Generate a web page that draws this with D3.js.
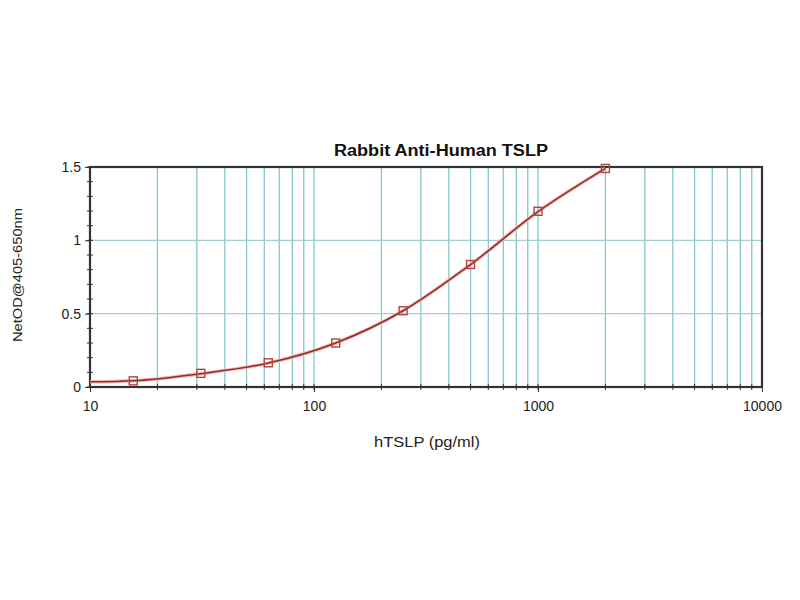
<!DOCTYPE html>
<html>
<head>
<meta charset="utf-8">
<script src="https://cdn.jsdelivr.net/npm/d3@7"></script>
<style>
  body { margin: 0; background: #fff; }
  svg { font-family: "Liberation Sans", Arial, sans-serif; }
</style>
</head>
<body>
<svg id="chart" width="800" height="600"></svg>
<script>
// standard concentrations (pg/ml) and measured OD
const conc = [15.6, 31.25, 62.5, 125, 250, 500, 1000, 2000];
const od = [0.042, 0.093, 0.165, 0.30, 0.52, 0.835, 1.198, 1.49];

// fitted curve (starts at the left axis)
const fitX = [10, 15.6, 31.25, 62.5, 125, 250, 500, 1000, 2000];
const fitY = [0.035, 0.043, 0.091, 0.163, 0.30, 0.52, 0.835, 1.195, 1.49];

const xTicks = [10, 100, 1000, 10000];
const yTicks = [0, 0.5, 1, 1.5];

const margin = {left: 90, top: 167, right: 38, bottom: 213};
const width = 800 - margin.left - margin.right,
    height = 600 - margin.top - margin.bottom;

const svg = d3.select("#chart");
const g = svg.append("g")
    .attr("transform", "translate(" + margin.left + "," + margin.top + ")");

const x = d3.scaleLog().domain([10, 10000]).range([0, width]);
const y = d3.scaleLinear().domain([0, 1.5]).range([height, 0]);

// grid values: every 1..9 of each decade
let gridX = [];
for (let d = 10; d < 10000; d *= 10) {
    for (let k = 1; k <= 9; k++) {
        if (d * k > 10) gridX.push(d * k);
    }
}
gridX = gridX.filter(v => v < 10000);

//vertical grid
g.append("g")
    .selectAll("line")
    .data(gridX)
    .join("line")
    .attr("x1", d => x(d)).attr("x2", d => x(d))
    .attr("y1", 0).attr("y2", height)
    .attr("stroke", "#86c6cb")
    .attr("stroke-width", 1.3);

//horizontal grid
g.append("g")
    .selectAll("line")
    .data([0.5, 1])
    .join("line")
    .attr("x1", 0).attr("x2", width)
    .attr("y1", d => y(d)).attr("y2", d => y(d))
    .attr("stroke", "#9fd0d2")
    .attr("stroke-width", 1.2);

//frame
g.append("rect")
    .attr("width", width).attr("height", height)
    .attr("fill", "none")
    .attr("stroke", "#333")
    .attr("stroke-width", 2.2);

//minor ticks on axes
g.append("g")
    .selectAll("line")
    .data(d3.range(0, 1.51, 0.1))
    .join("line")
    .attr("x1", -3).attr("x2", 3)
    .attr("y1", d => y(d)).attr("y2", d => y(d))
    .attr("stroke", "#333").attr("stroke-width", 1);

g.append("g")
    .selectAll("line")
    .data(gridX)
    .join("line")
    .attr("x1", d => x(d)).attr("x2", d => x(d))
    .attr("y1", height - 3).attr("y2", height + 3)
    .attr("stroke", "#333").attr("stroke-width", 1);

//axes
const xAxis = g.append("g")
    .attr("transform", "translate(0," + height + ")")
    .call(d3.axisBottom(x).tickValues(xTicks).tickFormat(d3.format("d")).tickSize(5).tickPadding(9));
const yAxis = g.append("g")
    .call(d3.axisLeft(y).tickValues(yTicks).tickFormat(d => d).tickSize(5).tickPadding(4));
[xAxis, yAxis].forEach(a => {
    a.select(".domain").remove();
    a.selectAll("line").attr("stroke", "#333");
    a.selectAll("text")
        .attr("fill", "#222")
        .style("font-size", "14px")
        .style("font-family", "'Liberation Sans', Arial, sans-serif");
});

//fitted curve
const line = d3.line()
    .x((d, i) => x(fitX[i]))
    .y((d, i) => y(fitY[i]))
    .curve(d3.curveMonotoneX);

g.append("path")
    .datum(fitX)
    .attr("d", line)
    .attr("fill", "none")
    .attr("stroke", "#f2b6b2")
    .attr("stroke-width", 3.5);
g.append("path")
    .datum(fitX)
    .attr("d", line)
    .attr("fill", "none")
    .attr("stroke", "#8e2c2a")
    .attr("stroke-width", 1.5);

//points
g.append("g")
    .selectAll("rect")
    .data(conc)
    .join("rect")
    .attr("x", d => x(d) - 4)
    .attr("y", (d, i) => y(od[i]) - 4)
    .attr("width", 8).attr("height", 8)
    .attr("fill", "none")
    .attr("stroke", "#b2443f")
    .attr("stroke-width", 1.4);

//title and labels
svg.append("text")
    .attr("x", 441).attr("y", 156)
    .attr("text-anchor", "middle")
    .attr("textLength", 214)
    .attr("lengthAdjust", "spacingAndGlyphs")
    .style("font-size", "16px")
    .style("font-weight", "bold")
    .attr("fill", "#111")
    .text("Rabbit Anti-Human TSLP");

svg.append("text")
    .attr("x", 427).attr("y", 447)
    .attr("text-anchor", "middle")
    .attr("textLength", 106)
    .attr("lengthAdjust", "spacingAndGlyphs")
    .style("font-size", "14px")
    .attr("fill", "#222")
    .text("hTSLP (pg/ml)");

svg.append("text")
    .attr("transform", "translate(22,275) rotate(-90)")
    .attr("text-anchor", "middle")
    .attr("textLength", 134)
    .attr("lengthAdjust", "spacingAndGlyphs")
    .style("font-size", "13px")
    .attr("fill", "#222")
    .text("NetOD@405-650nm");
</script>
</body>
</html>
